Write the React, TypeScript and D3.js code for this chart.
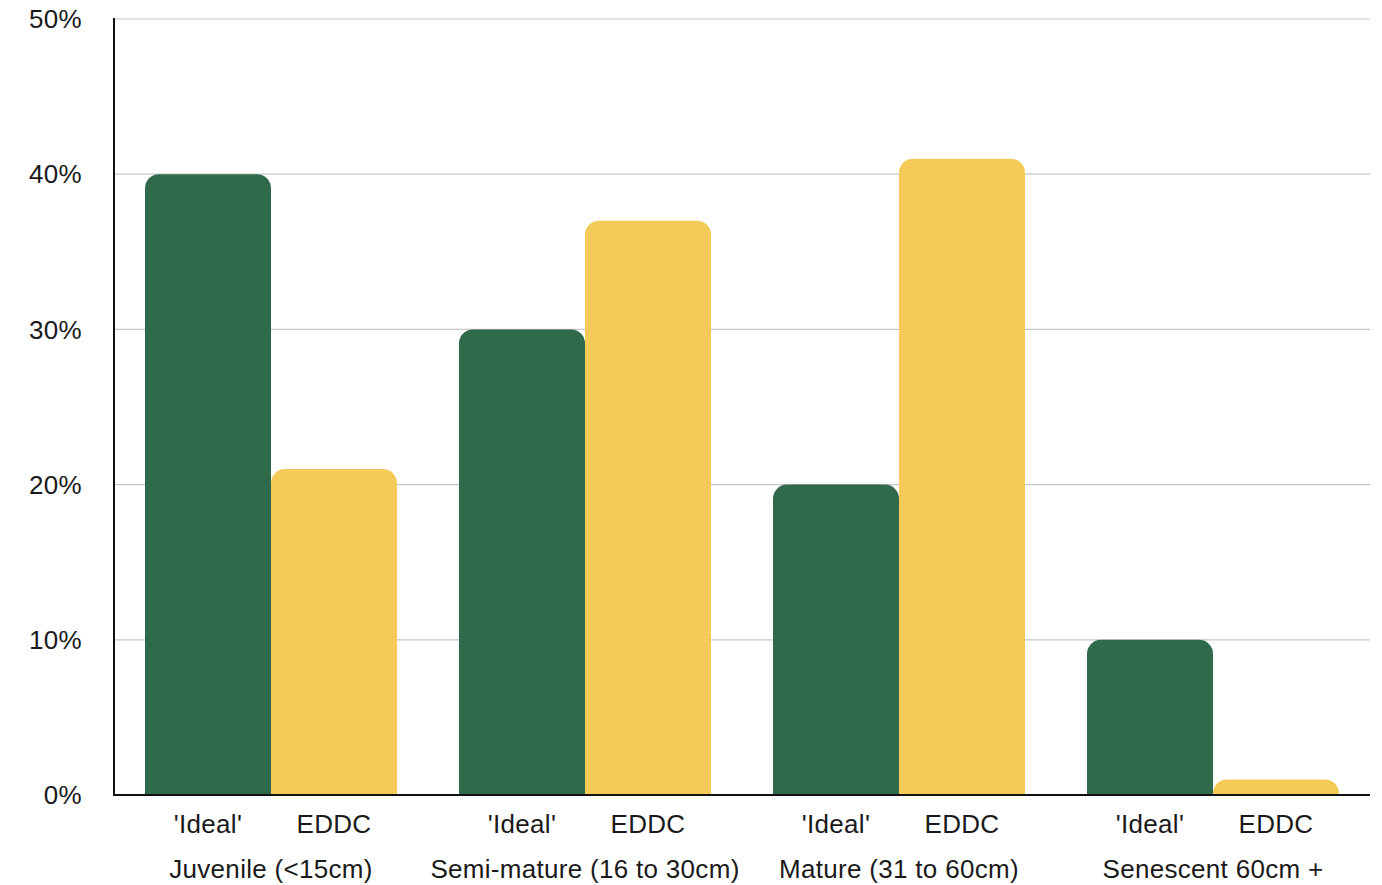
import React from "react";
import * as d3 from "d3";

const categories = ["Juvenile (<15cm)", "Semi-mature (16 to 30cm)", "Mature (31 to 60cm)", "Senescent 60cm +"];
const seriesNames = ["'Ideal'", "EDDC"];
const idealValues = [40, 30, 20, 10];
const eddcValues = [21, 37, 41, 1];
const yTicks = [0, 10, 20, 30, 40, 50];
const colors = ["#2F6A4A", "#F4CB59"];

const W = 1382;
const H = 885;
const left = 114;
const right = 1370;
const top = 19;
const bottom = 795;
const font = "'Liberation Sans', Arial, Helvetica, sans-serif";
const fs = 26;
const ls = 0.3;

function topRoundedBar(x: number, y: number, w: number, h: number, r: number) {
  const rr = Math.min(r, h, w / 2);
  const p = d3.path();
  p.moveTo(x, y + h);
  p.lineTo(x, y + rr);
  p.arcTo(x, y, x + rr, y, rr);
  p.lineTo(x + w - rr, y);
  p.arcTo(x + w, y, x + w, y + rr, rr);
  p.lineTo(x + w, y + h);
  p.closePath();
  return p.toString();
}

export default function App() {
  const y = d3.scaleLinear().domain([0, 50]).range([bottom, top]);
  const x0 = d3.scaleBand<string>().domain(categories).range([left, right]).padding(0);
  const bw = x0.bandwidth();
  const x1 = d3.scaleBand<string>().domain(seriesNames).range([31, bw - 31]).padding(0);
  const series = [idealValues, eddcValues];

  return (
    <svg width={W} height={H} style={{ position: "absolute", left: 0, top: 0, background: "#fff" }}>
      {yTicks.map((t) => (
        <g key={t}>
          {t > 0 && (
            <line x1={left} x2={right} y1={y(t)} y2={y(t)} stroke="#c6c6c6" strokeWidth={1.2} />
          )}
          <text x={82} y={y(t)} dy="0.35em" textAnchor="end" fontFamily={font} fontSize={fs} letterSpacing={ls} fill="#1a1a1a">
            {t}%
          </text>
        </g>
      ))}
      {categories.map((c, ci) => (
        <g key={c}>
          {seriesNames.map((s, si) => {
            const v = series[si][ci];
            const bx = (x0(c) as number) + (x1(s) as number);
            const by = y(v);
            return (
              <path key={s} d={topRoundedBar(bx, by, x1.bandwidth(), bottom - by, 14)} fill={colors[si]} />
            );
          })}
          {seriesNames.map((s) => (
            <text
              key={s + "l"}
              x={(x0(c) as number) + (x1(s) as number) + x1.bandwidth() / 2}
              y={833}
              textAnchor="middle"
              fontFamily={font}
              fontSize={fs}
              letterSpacing={ls}
              fill="#1a1a1a"
            >
              {s}
            </text>
          ))}
          <text
            x={(x0(c) as number) + bw / 2}
            y={878}
            textAnchor="middle"
            fontFamily={font}
            fontSize={fs}
            letterSpacing={ls}
            fill="#1a1a1a"
          >
            {c}
          </text>
        </g>
      ))}
      <line x1={left} x2={left} y1={top - 1} y2={bottom + 1} stroke="#111" strokeWidth={2} />
      <line x1={left - 1} x2={right} y1={bottom} y2={bottom} stroke="#111" strokeWidth={2} />
    </svg>
  );
}
